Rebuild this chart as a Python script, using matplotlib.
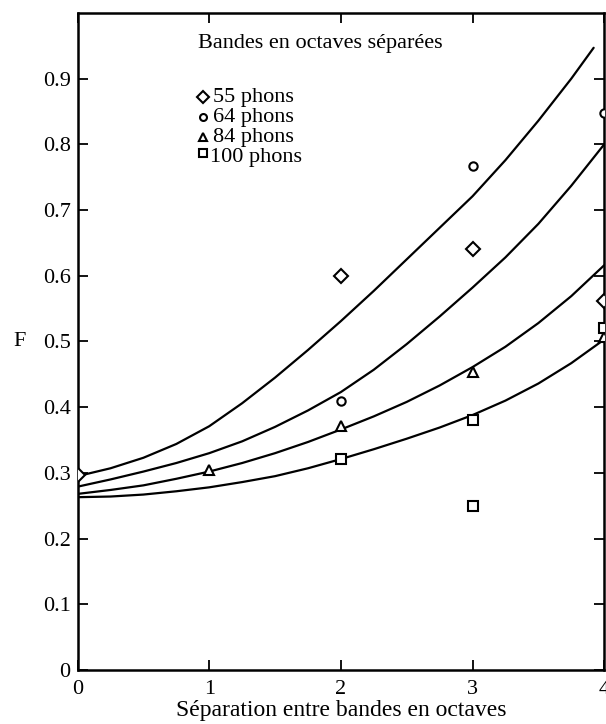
import matplotlib
matplotlib.use("Agg")
import matplotlib.pyplot as plt

# --- data ------------------------------------------------------------------
# measured points per loudness level
x_55 = [0, 2, 3, 4]
y_55 = [0.297, 0.60, 0.64, 0.562]
x_64 = [2, 3, 4]
y_64 = [0.41, 0.767, 0.848]
x_84 = [1, 2, 3, 4]
y_84 = [0.305, 0.372, 0.453, 0.507]
x_100 = [2, 3, 3, 4]
y_100 = [0.321, 0.38, 0.25, 0.52]

# fitted curves, read every quarter octave
curve_x = [0, 0.25, 0.5, 0.75, 1, 1.25, 1.5, 1.75, 2, 2.25, 2.5, 2.75, 3,
           3.25, 3.5, 3.75, 4]
curve_55_x = curve_x[:-1] + [3.92]
curve_55 = [0.295, 0.307, 0.323, 0.344, 0.371, 0.406, 0.445, 0.487, 0.531,
            0.577, 0.625, 0.673, 0.721, 0.776, 0.836, 0.900, 0.947]
curve_64 = [0.279, 0.290, 0.302, 0.315, 0.330, 0.348, 0.370, 0.395, 0.423,
            0.457, 0.496, 0.538, 0.582, 0.628, 0.679, 0.737, 0.800]
curve_84 = [0.268, 0.274, 0.281, 0.291, 0.302, 0.315, 0.330, 0.347, 0.366,
            0.386, 0.408, 0.433, 0.461, 0.492, 0.528, 0.569, 0.616]
curve_100 = [0.263, 0.264, 0.267, 0.272, 0.278, 0.286, 0.295, 0.307, 0.321,
             0.336, 0.352, 0.369, 0.388, 0.410, 0.436, 0.467, 0.503]

legend_title = "Bandes en octaves séparées"
legend_labels = ["55 phons", "64 phons", "84 phons", "100 phons"]
legend_markers = ["D", "o", "^", "s"]

plt.rcParams["font.family"] = ["Liberation Serif", "DejaVu Serif"]

fig = plt.figure(figsize=(6.06, 7.24), dpi=100)
ax = fig.add_axes([0.128, 0.0746, 0.869, 0.9075])

lw = 1.6
for cx, cy in [(curve_55_x, curve_55), (curve_x, curve_64),
               (curve_x, curve_84), (curve_x, curve_100)]:
    ax.plot(cx, cy, color="black", lw=lw, solid_capstyle="round",
            solid_joinstyle="round")

mk = dict(linestyle="none", markerfacecolor="white", markeredgecolor="black",
          markeredgewidth=1.5, zorder=3)
ax.plot(x_55, y_55, marker="D", markersize=7, **mk)
ax.plot(x_64, y_64, marker="o", markersize=6, **mk)
ax.plot(x_84, y_84, marker="^", markersize=7, **mk)
ax.plot(x_100, y_100, marker="s", markersize=6.5, **mk)

# legend block drawn by hand
ax.text(0.229, 0.954, legend_title, transform=ax.transAxes,
        fontsize=16, va="center", ha="left")
sizes = [6, 5, 6, 5.5]
for i, (lab, m) in enumerate(zip(legend_labels, legend_markers)):
    yy = 0.872 - i * 0.0305
    ax.plot([0.238], [yy + (0.006 if i == 3 else 0)], marker=m,
            markersize=sizes[i], transform=ax.transAxes, **mk)
    ax.text(0.258 - (0.006 if i == 3 else 0), yy, lab, transform=ax.transAxes,
            fontsize=16, va="center", ha="left")

ax.set_xlim(0, 4)
ax.set_ylim(0, 1.0)
ax.set_xticks([0, 1, 2, 3, 4])
ax.set_xticklabels(["0", "1", "2", "3", "4"])
ax.set_yticks([0, 0.1, 0.2, 0.3, 0.4, 0.5, 0.6, 0.7, 0.8, 0.9])
ax.set_yticklabels(["0", "0.1", "0.2", "0.3", "0.4", "0.5", "0.6", "0.7",
                    "0.8", "0.9"])
ax.tick_params(direction="in", length=7, width=1.3, labelsize=16,
               top=True, right=True, pad=5)
ax.tick_params(axis="x", pad=7)
for s in ax.spines.values():
    s.set_linewidth(1.8)

ax.set_xlabel("Séparation entre bandes en octaves", fontsize=17, labelpad=1)
ax.set_ylabel("F", fontsize=16, rotation=0, va="center")
ax.yaxis.set_label_coords(-0.11, 0.5)

fig.savefig("out.png", dpi=100)
